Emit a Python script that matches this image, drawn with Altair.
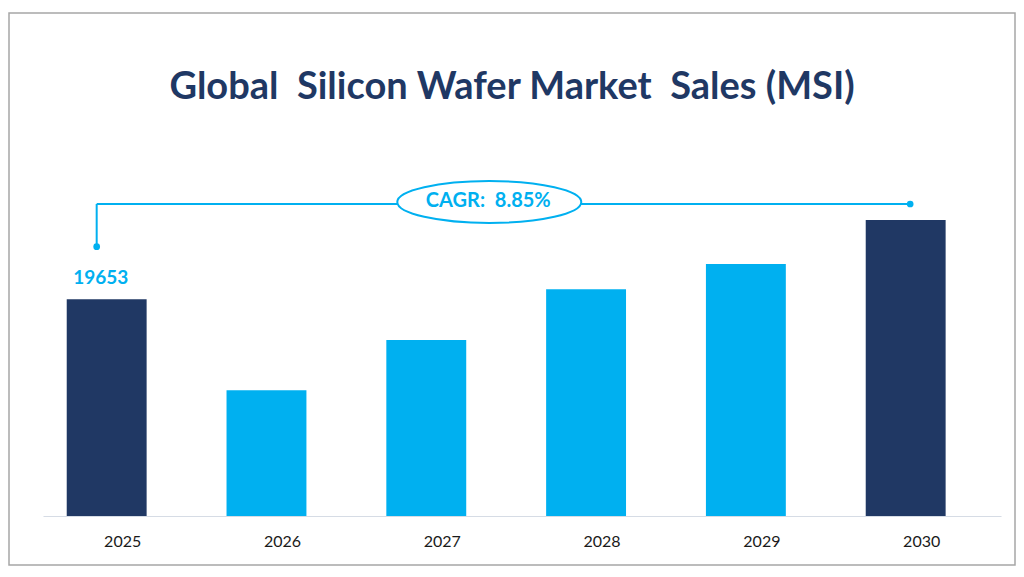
import altair as alt
import pandas as pd

years = ["2025", "2026", "2027", "2028", "2029", "2030"]
sales = [19653, 11400, 15960, 20555, 22850, 26840]
bar_colors = ["#203864", "#00B0F0", "#00B0F0", "#00B0F0", "#00B0F0", "#203864"]
label_year = ["2025"]
label_text = ["19653"]
title_text = "Global \u00a0Silicon Wafer Market \u00a0Sales (MSI)"
cagr_text = "CAGR: \u00a08.85%"
cagr_high = 28290
cagr_low = 24420

NAVY = "#1F3864"
BLUE = "#00B0F0"
FONT = "Lato"

bars_df = pd.DataFrame({"Year": years, "Sales": sales})
label_df = pd.DataFrame({"Year": label_year, "Sales": [sales[0]], "Label": label_text})
hline_df = pd.DataFrame({"Year": [years[0]], "Year2": [years[-1]], "Level": [cagr_high]})
vline_df = pd.DataFrame({"Year": [years[0]], "Low": [cagr_low], "High": [cagr_high]})
ldot_df = pd.DataFrame({"Year": [years[0]], "Level": [cagr_low]})
rdot_df = pd.DataFrame({"Year": [years[-1]], "Level": [cagr_high]})
cagr_df = pd.DataFrame({"Year": [years[2]], "Level": [cagr_high], "Text": [cagr_text]})
title_df = pd.DataFrame({"Title": [title_text]})

xscale = alt.Scale(domain=years, paddingInner=0.5, paddingOuter=0.2475, align=0.3)
yscale = alt.Scale(domain=[0, 35000])

X = alt.X("Year:N", scale=xscale, sort=years,
          axis=alt.Axis(title=None, ticks=False, labelAngle=0, labelPadding=17, labelOffset=16,
                        labelFont=FONT, labelFontSize=16, labelColor="#1A1A1A",
                        domainColor="#D6DCE5", domainWidth=1.2, grid=False))
Y = alt.Y("Sales:Q", scale=yscale, axis=None)

border = alt.Chart(title_df).mark_rect(fill=None, stroke="#A6A6A6", strokeWidth=1.5).encode(
    x=alt.value(-34), x2=alt.value(972), y=alt.value(-117), y2=alt.value(435)
)

title = alt.Chart(title_df).mark_text(
    font=FONT, fontSize=38, fontWeight="bold", color=NAVY, align="center", baseline="alphabetic"
).encode(x=alt.value(469), y=alt.value(-31.5), text="Title:N")

bars = alt.Chart(bars_df).mark_bar().encode(
    x=X, y=Y,
    color=alt.Color("Year:N", scale=alt.Scale(domain=years, range=bar_colors), legend=None),
)

value_label = alt.Chart(label_df).mark_text(
    font=FONT, fontSize=19, fontWeight="bold", color=BLUE, dy=-21, dx=-6, baseline="middle"
).encode(x=alt.X("Year:N", scale=xscale, sort=years), y=alt.Y("Sales:Q", scale=yscale), text="Label:N")

hline = alt.Chart(hline_df).mark_rule(color=BLUE, strokeWidth=2, xOffset=-10, x2Offset=4.5).encode(
    x=alt.X("Year:N", scale=xscale, sort=years), x2="Year2:N",
    y=alt.Y("Level:Q", scale=yscale),
)

vline = alt.Chart(vline_df).mark_rule(color=BLUE, strokeWidth=2, xOffset=-10).encode(
    x=alt.X("Year:N", scale=xscale, sort=years),
    y=alt.Y("Low:Q", scale=yscale), y2="High:Q",
)

ldot = alt.Chart(ldot_df).mark_point(filled=True, color=BLUE, size=45, opacity=1, xOffset=-10).encode(
    x=alt.X("Year:N", scale=xscale, sort=years), y=alt.Y("Level:Q", scale=yscale),
)
rdot = alt.Chart(rdot_df).mark_point(filled=True, color=BLUE, size=45, opacity=1, xOffset=4.5).encode(
    x=alt.X("Year:N", scale=xscale, sort=years), y=alt.Y("Level:Q", scale=yscale),
)

ellipse = alt.Chart(cagr_df).mark_point(
    shape="M -1 0 A 1 0.228 0 1 1 1 0 A 1 0.228 0 1 1 -1 0 Z",
    size=184 * 184, filled=False, fill="white", fillOpacity=1, stroke=BLUE, strokeWidth=2,
    opacity=1, xOffset=63, yOffset=-2,
).encode(x=alt.X("Year:N", scale=xscale, sort=years), y=alt.Y("Level:Q", scale=yscale))

cagr_label = alt.Chart(cagr_df).mark_text(
    font=FONT, fontSize=20, fontWeight="bold", color=BLUE, xOffset=62, yOffset=-3, baseline="middle"
).encode(x=alt.X("Year:N", scale=xscale, sort=years), y=alt.Y("Level:Q", scale=yscale), text="Text:N")

chart = alt.layer(border, title, bars, value_label, hline, vline, ldot, rdot, ellipse, cagr_label).properties(
    width=958, height=386,
    padding={"left": 35, "top": 122, "right": 15, "bottom": 51},
    autosize=alt.AutoSizeParams(type="none"),
    background="white",
).configure_view(strokeWidth=0, stroke="transparent")

chart.save("out.html", embed_options={"renderer": "svg", "actions": False})
